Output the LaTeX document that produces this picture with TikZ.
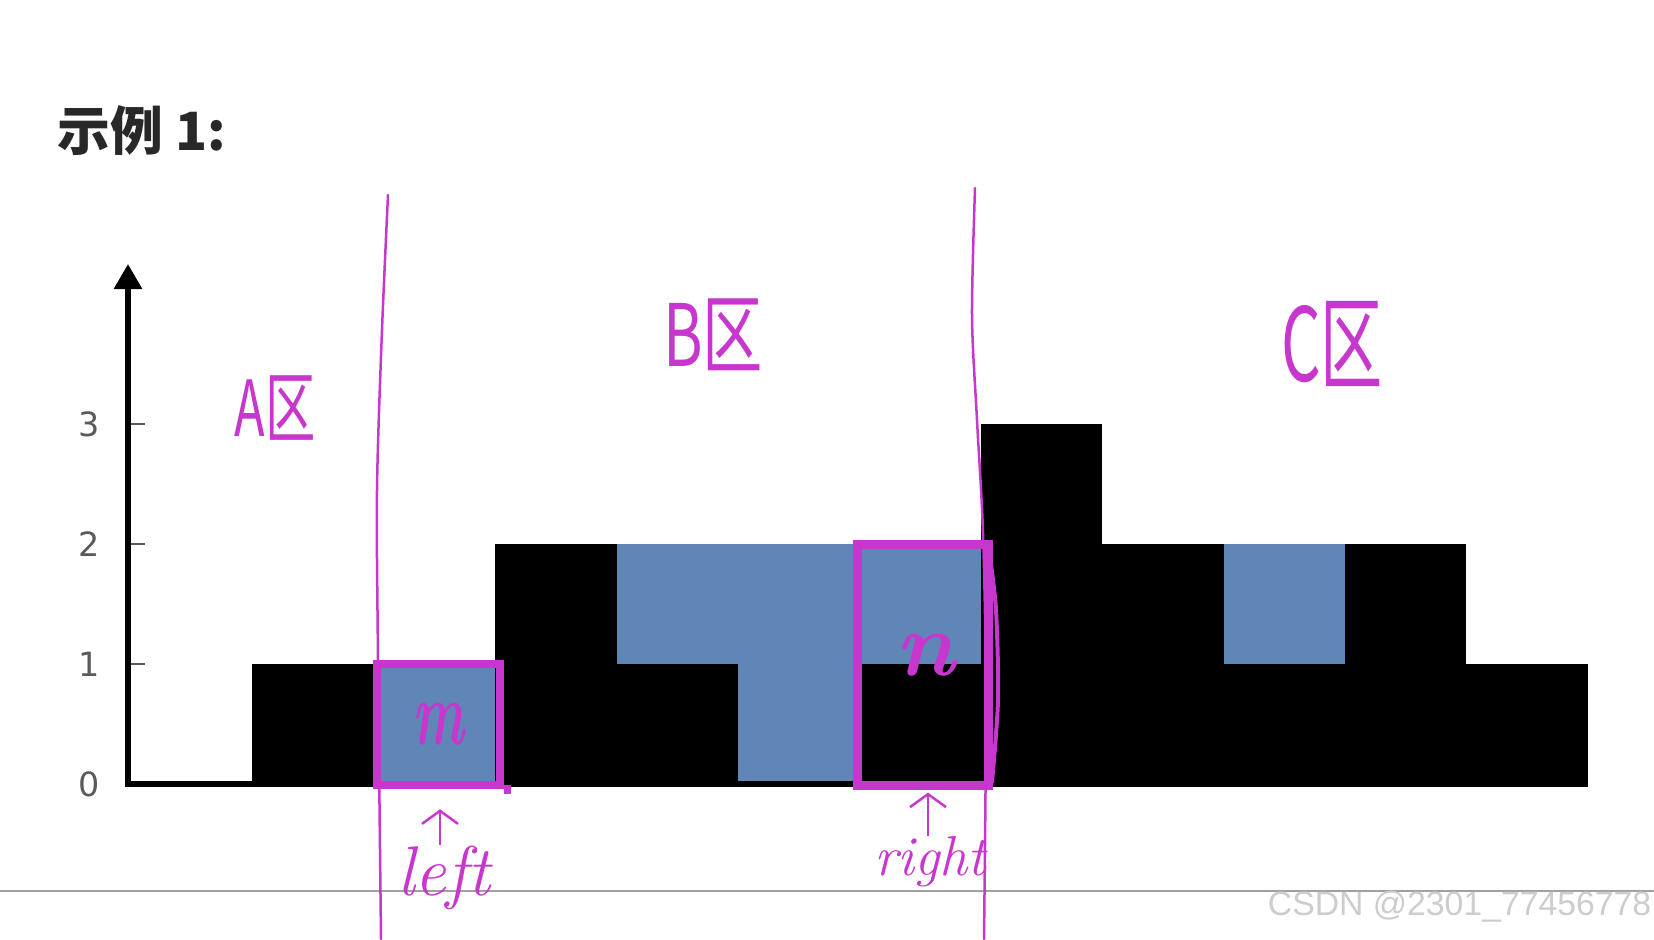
\documentclass[tikz,border=0pt]{standalone}
\usepackage{fontspec}
\usetikzlibrary{arrows.meta}
\newfontfamily\cjk{Noto Sans CJK SC}
\newfontfamily\dejavu{DejaVu Sans}
\newfontfamily\libsans{Liberation Sans}
\definecolor{hand}{RGB}{200,55,205}
\definecolor{water}{RGB}{96,134,184}
\definecolor{titlec}{RGB}{40,40,40}
\definecolor{tickc}{RGB}{90,90,90}
\definecolor{wmark}{RGB}{205,205,205}
\definecolor{rulec}{RGB}{160,160,160}
\tikzset{
  barblack/.style={fill=black, draw=none},
  barwater/.style={fill=water, draw=none},
  axisline/.style={line width=0.06cm, black},
  tickmark/.style={line width=0.02cm, tickc},
  ticklbl/.style={text=tickc, font=\dejavu\fontsize{9.5}{11}\selectfont, inner sep=0},
  vline/.style={hand, line width=0.025cm, line cap=round},
  handbox/.style={draw=hand, line width=0.085cm, inner sep=0, text=hand},
  handarrow/.style={hand, line width=0.025cm, -{Straight Barb[length=0.13cm,width=0.36cm]}},
  zonelbl/.style={text=hand, inner sep=0},
  hwtext/.style={text=hand, inner sep=0},
}
\begin{document}
\begin{tikzpicture}[x=0.01cm,y=-0.01cm]
\useasboundingbox (0,0) rectangle (1654,939);
\fill[white] (0,0) rectangle (1654,939);

% title
\node[anchor=west, inner sep=0, text=titlec, font=\cjk\bfseries\fontsize{15}{18}\selectfont] (title) at (57,131) {示例 1:};

% water
\fill[barwater] (373.8,784) rectangle (495.2,664);
\fill[barwater] (616.6,664) rectangle (738,544);
\fill[barwater] (738,784) rectangle (859.4,544);
\fill[barwater] (859.4,664) rectangle (980.8,544);
\fill[barwater] (1223.6,664) rectangle (1345,544);

% bars
\fill[barblack] (252.4,784) rectangle (373.8,664);
\fill[barblack] (495.2,784) rectangle (616.6,544);
\fill[barblack] (616.6,784) rectangle (738,664);
\fill[barblack] (859.4,784) rectangle (980.8,664);
\fill[barblack] (980.8,784) rectangle (1102.2,424);
\fill[barblack] (1102.2,784) rectangle (1223.6,544);
\fill[barblack] (1223.6,784) rectangle (1345,664);
\fill[barblack] (1345,784) rectangle (1466.4,544);
\fill[barblack] (1466.4,784) rectangle (1587.8,664);

% axes
\draw[axisline] (125,784) -- (1587.8,784);
\draw[axisline, -{Triangle[length=0.25cm,width=0.27cm]}] (128,787) -- (128,264);
\foreach \h/\y in {1/664, 2/544, 3/424}{
  \draw[tickmark] (131,\y) -- (145,\y);
}
\node[ticklbl] (t0) at (89,784) {0};
\node[ticklbl] (t1) at (89,664) {1};
\node[ticklbl] (t2) at (89,544) {2};
\node[ticklbl] (t3) at (89,424) {3};

% bottom rule
\draw[rulec, line width=0.015cm] (0,891) -- (1654,891);

% watermark
\node[anchor=east, inner sep=0, text=wmark, font=\libsans\fontsize{9.6}{11}\selectfont] (wm) at (1652,907) {CSDN @2301\_77456778};

% hand-drawn vertical lines
\draw[vline] plot[smooth] coordinates {(388,195) (382,330) (377,490) (378,660) (381,939)};
\draw[vline] plot[smooth] coordinates {(975,188) (972,316) (977,420) (983,533) (986,700) (984,939)};

% zone labels
\node[zonelbl] (za) at (275,408) {\scalebox{0.65}[1]{\cjk\fontsize{22}{24}\selectfont A区}};
\node[zonelbl] (zb) at (713,335) {\scalebox{0.7}[1]{\cjk\fontsize{24.5}{26}\selectfont B区}};
\node[zonelbl] (zc) at (1332,344) {\scalebox{0.61}[1]{\cjk\fontsize{29}{31}\selectfont C区}};

% boxes m and n
\node[handbox, minimum width=1.23cm, minimum height=1.21cm] (mbox) at (438.5,724.5)
  {\scalebox{0.6}[1]{\fontsize{26}{28}\selectfont\bfseries\itshape m}};
\draw[hand, line width=0.085cm] (mbox.south east) -- ([xshift=0.07cm]mbox.south east);
\node[handbox, line width=0.09cm, minimum width=1.30cm, minimum height=2.40cm] (nbox) at (923,665) {};
\node[hwtext, font=\fontsize{26}{28}\selectfont\bfseries\itshape] (nlbl) at (925,655) {n};
\draw[hand, line width=0.04cm, line cap=round] plot[smooth] coordinates {(989,550) (996,610) (998,700) (992,782)};

% labels left / right with arrows
\node[hwtext, font=\fontsize{20}{22}\selectfont\itshape] (leftlbl) at (444,878) {left};
\node[hwtext, font=\fontsize{16}{18}\selectfont\itshape] (rightlbl) at (930,862) {right};
\draw[handarrow, shorten >=0.2cm] ([xshift=-0.04cm]leftlbl.north) -- ([xshift=-0.04cm]leftlbl.north |- mbox.south);
\draw[handarrow, shorten >=0.03cm] ([xshift=-0.02cm]rightlbl.north) -- ([xshift=-0.02cm]rightlbl.north |- nbox.south);
\end{tikzpicture}
\end{document}
